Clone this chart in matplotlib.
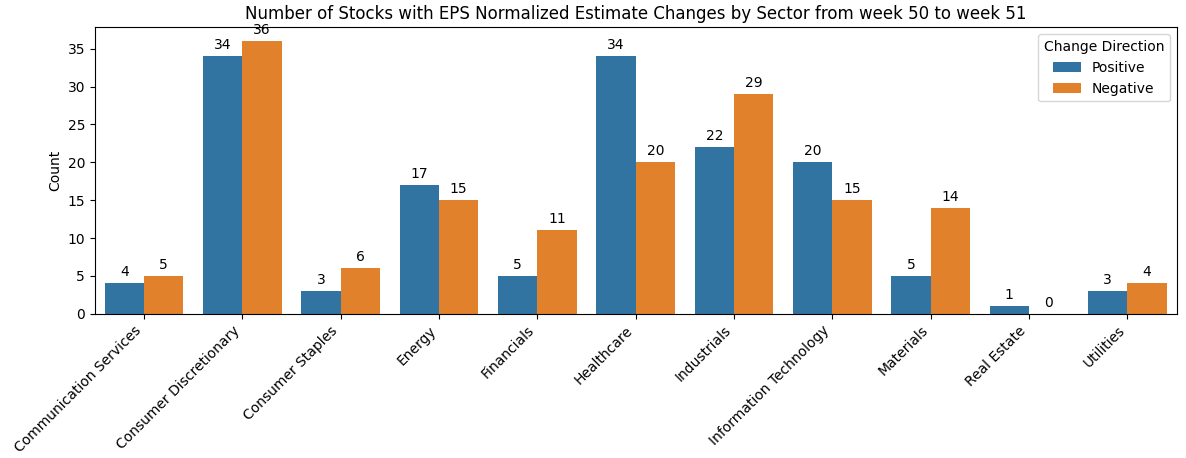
import matplotlib
matplotlib.use("Agg")
import matplotlib.pyplot as plt
import seaborn as sns
import pandas as pd

sectors = ["Communication Services", "Consumer Discretionary", "Consumer Staples",
           "Energy", "Financials", "Healthcare", "Industrials",
           "Information Technology", "Materials", "Real Estate", "Utilities"]
positive = [4, 34, 3, 17, 5, 34, 22, 20, 5, 1, 3]
negative = [5, 36, 6, 15, 11, 20, 29, 15, 14, 0, 4]

df = pd.DataFrame({
    "Sector": sectors * 2,
    "Count": positive + negative,
    "Change Direction": ["Positive"] * len(sectors) + ["Negative"] * len(sectors),
})

fig, ax = plt.subplots(figsize=(11.86, 4.58), dpi=100)
sns.barplot(data=df, x="Sector", y="Count", hue="Change Direction", ax=ax)

for c in ax.containers:
    ax.bar_label(c, padding=3, fontsize=10)

ax.set_title("Number of Stocks with EPS Normalized Estimate Changes by Sector from week 50 to week 51", fontsize=12)
ax.set_xlabel("")
ax.set_ylabel("Count")
plt.setp(ax.get_xticklabels(), rotation=45, ha="right")
ax.legend(title="Change Direction", loc="upper right")

plt.subplots_adjust(left=0.08, right=0.992, top=0.94, bottom=0.315)
fig.savefig("out.png", dpi=100)
